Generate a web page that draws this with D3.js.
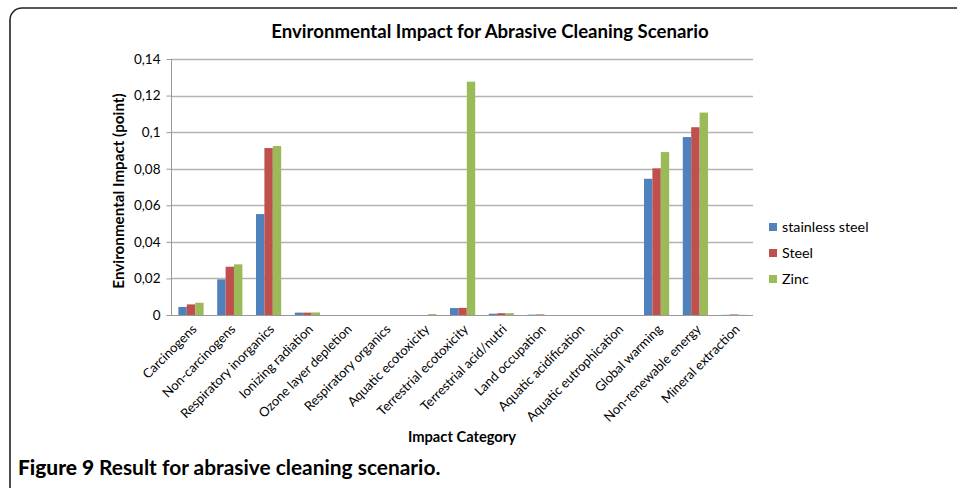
<!DOCTYPE html>
<html>
<head>
<meta charset="utf-8">
<script src="https://cdn.jsdelivr.net/npm/d3@7"></script>
<style>
body{margin:0;background:#fff;}
text{font-family:Lato,"Open Sans",sans-serif;fill:#000;}
</style>
</head>
<body>
<div id="viz"></div>
<script>
var width=957, height=488;

var categories=["Carcinogens","Non-carcinogens","Respiratory inorganics","Ionizing radiation","Ozone layer depletion","Respiratory organics","Aquatic ecotoxicity","Terrestrial ecotoxicity","Terrestrial acid/nutri","Land occupation","Aquatic acidification","Aquatic eutrophication","Global warming","Non-renewable energy","Mineral extraction"];
var seriesNames=["stainless steel","Steel","Zinc"];
var colors=["#4f81bd","#c0504d","#9bbb59"];
var stainless=[0.0044,0.0195,0.0552,0.0013,0,0,0,0.0038,0.0007,0.0002,0,0,0.0745,0.0973,0.0001];
var steel=[0.0058,0.0264,0.0913,0.0013,0,0,0,0.0039,0.001,0.0003,0,0,0.0802,0.1027,0.0003];
var zinc=[0.0067,0.0277,0.0924,0.0014,0,0,0.0005,0.1276,0.001,0,0,0,0.0891,0.1107,0.0001];
var yTicks=[0,0.02,0.04,0.06,0.08,0.1,0.12,0.14];
var tickLabels=["0","0,02","0,04","0,06","0,08","0,1","0,12","0,14"];

var values=[stainless,steel,zinc];
var m={left:171,right:753,top:59,bottom:315};

var svg=d3.select("#viz").append("svg")
  .attr("width",width).attr("height",height);

// outer frame
svg.append("rect")
  .attr("x",10).attr("y",8)
  .attr("width",970).attr("height",500)
  .attr("rx",12).attr("ry",12)
  .attr("fill","none").attr("stroke","#222").attr("stroke-width",1.6);

var x0=d3.scaleBand().domain(categories).range([m.left,m.right]);
var gap=x0.bandwidth()*0.35;
var x1=d3.scaleBand().domain(seriesNames).range([gap/2+0.6,x0.bandwidth()-gap/2+0.6]);
var y=d3.scaleLinear().domain([0,0.14]).range([m.bottom,m.top]);

// gridlines
svg.append("g").selectAll("line")
  .data(yTicks.slice(1))
  .enter().append("line")
  .attr("x1",m.left).attr("x2",m.right)
  .attr("y1",function(d){return Math.round(y(d))+0.5;})
  .attr("y2",function(d){return Math.round(y(d))+0.5;})
  .attr("stroke","#b3b3b3").attr("stroke-width",1.3);

// y axis
var yAxis=d3.axisLeft(y).tickValues(yTicks)
  .tickFormat(function(d,i){return tickLabels[i];})
  .tickSize(5).tickPadding(6);
var gy=svg.append("g").attr("transform","translate("+(m.left+0.5)+",0)").call(yAxis);
gy.select(".domain").attr("stroke","#999").attr("d","M0,"+m.top+"V"+m.bottom);
gy.selectAll(".tick line").attr("stroke","#999");
gy.selectAll("text").style("font-family","Lato,sans-serif").style("font-size","13.5px").attr("fill","#000");

// bars
var groups=svg.append("g").selectAll("g")
  .data(categories)
  .enter().append("g")
  .attr("transform",function(d){return "translate("+x0(d)+",0)";});

groups.selectAll("rect")
  .data(function(d,i){return values.map(function(v,s){return {s:s,v:v[i]};});})
  .enter().append("rect")
  .attr("x",function(d){return x1(seriesNames[d.s]);})
  .attr("width",x1.bandwidth())
  .attr("y",function(d){return y(d.v);})
  .attr("height",function(d){return m.bottom-y(d.v);})
  .attr("fill",function(d){return colors[d.s];});

// x axis line
svg.append("line")
  .attr("x1",m.left).attr("x2",m.right)
  .attr("y1",m.bottom+0.5).attr("y2",m.bottom+0.5)
  .attr("stroke","#999").attr("stroke-width",1.2);

// x labels
svg.append("g").selectAll("text")
  .data(categories)
  .enter().append("text")
  .attr("transform",function(d){return "translate("+(x0(d)+x0.bandwidth()/2+7)+","+(m.bottom+15)+") rotate(-45)";})
  .attr("text-anchor","end")
  .style("font-size","13px")
  .text(function(d){return d;});

// titles
svg.append("text")
  .attr("x",490).attr("y",38)
  .attr("text-anchor","middle")
  .style("font-size","18.6px").style("font-weight","bold")
  .text("Environmental Impact for Abrasive Cleaning Scenario");

svg.append("text")
  .attr("transform","translate(124,191) rotate(-90)")
  .attr("text-anchor","middle")
  .style("font-size","15.2px").style("font-weight","bold")
  .text("Environmental Impact (point)");

svg.append("text")
  .attr("x",462).attr("y",442)
  .attr("text-anchor","middle")
  .style("font-size","14.7px").style("font-weight","bold")
  .text("Impact Category");

// legend
var lg=svg.append("g").selectAll("g")
  .data(seriesNames)
  .enter().append("g")
  .attr("transform",function(d,i){return "translate(769,"+(223+i*26)+")";});
lg.append("rect").attr("width",8).attr("height",8)
  .attr("fill",function(d,i){return colors[i];});
lg.append("text").attr("x",13).attr("y",9)
  .style("font-size","14.3px")
  .text(function(d){return d;});

// caption
var cap=svg.append("text").attr("x",18).attr("y",475)
  .style("font-size","20.9px").style("font-weight","bold");
cap.append("tspan").style("font-weight","900").text("Figure 9 ");
cap.append("tspan").text("Result for abrasive cleaning scenario.");
</script>
</body>
</html>
